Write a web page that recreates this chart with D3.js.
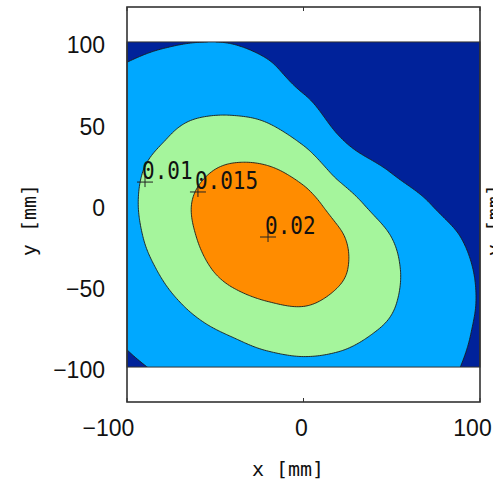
<!DOCTYPE html>
<html><head><meta charset="utf-8">
<script src="https://cdn.jsdelivr.net/npm/d3@7"></script>
<style>html,body{margin:0;padding:0;background:#fff;} svg{display:block;}</style>
</head><body>
<svg id="chart" width="493" height="480"></svg>
<script>
// ---- data ----
const gridX = [-100, -80, -60, -40, -20, 0, 20, 40, 60, 80, 100];
const gridY = [100, 80, 60, 40, 20, 0, -20, -40, -60, -80, -100];
const field = [
 [0.00400,0.00459,0.00497,0.00485,0.00377,0.00202,0.00096,0.00042,0.00017,0.00009,0.00005],
 [0.00558,0.00654,0.00707,0.00710,0.00607,0.00348,0.00170,0.00065,0.00036,0.00019,0.00010],
 [0.00699,0.00833,0.00916,0.00927,0.00855,0.00620,0.00300,0.00140,0.00073,0.00056,0.00034],
 [0.00804,0.00980,0.01168,0.01238,0.01166,0.00930,0.00534,0.00282,0.00189,0.00117,0.00076],
 [0.00883,0.01147,0.01416,0.01593,0.01576,0.01334,0.00892,0.00609,0.00383,0.00232,0.00143],
 [0.00904,0.01210,0.01558,0.01862,0.01909,0.01712,0.01278,0.00903,0.00653,0.00414,0.00251],
 [0.00866,0.01167,0.01513,0.01893,0.02010,0.01906,0.01566,0.01160,0.00852,0.00604,0.00375],
 [0.00802,0.01044,0.01359,0.01691,0.01896,0.01845,0.01582,0.01237,0.00927,0.00692,0.00453],
 [0.00699,0.00894,0.01111,0.01339,0.01495,0.01544,0.01391,0.01164,0.00913,0.00700,0.00474],
 [0.00569,0.00740,0.00891,0.01023,0.01150,0.01206,0.01135,0.00989,0.00840,0.00656,0.00443],
 [0.00419,0.00560,0.00696,0.00797,0.00863,0.00904,0.00878,0.00795,0.00696,0.00571,0.00404]
];
const levels = [0.005, 0.01, 0.015];
const xTicks = [-100, 0, 100];
const yTicks = [-100, -50, 0, 50, 100];
const labelText = ["0.01", "0.015", "0.02"];
const labelX = [-89.8, -59.8, -20.1];
const labelY = [13.8, 7.7, -20.0];

// ---- styles ----
const bandColors = ["#00229a", "#00a8ff", "#a5f59c", "#ff8c00"];
const tickFont = "'Liberation Sans', Arial, Helvetica, sans-serif";
const monoFont = "'DejaVu Sans Mono', 'Liberation Mono', monospace";

const svg = d3.select("#chart");
const x = d3.scaleLinear([-100, 100], [127, 480]);
const y = d3.scaleLinear([-121.5, 121.5], [402, 7]);

// ---- smooth resampling of the grid (Catmull-Rom) for drawing ----
const nR = field.length, nC = field[0].length;
function at(r, c) {
  // linear extrapolation for ghost points
  if (c < 0) return 2 * at(r, 0) - at(r, 1);
  if (c > nC - 1) return 2 * at(r, nC - 1) - at(r, nC - 2);
  if (r < 0) return 2 * at(0, c) - at(1, c);
  if (r > nR - 1) return 2 * at(nR - 1, c) - at(nR - 2, c);
  return field[r][c];
}
function cr(p0, p1, p2, p3, t) {
  return 0.5 * (2 * p1 + (-p0 + p2) * t + (2 * p0 - 5 * p1 + 4 * p2 - p3) * t * t + (-p0 + 3 * p1 - 3 * p2 + p3) * t * t * t);
}
function sample(u, v) {
  let i = Math.min(Math.floor(u), nC - 2), j = Math.min(Math.floor(v), nR - 2);
  const tu = u - i, tv = v - j;
  const rows = [];
  for (let k = -1; k <= 2; k++) {
    const r = j + k;
    rows.push(cr(at(r, i - 1), at(r, i), at(r, i + 1), at(r, i + 2), tu));
  }
  return cr(rows[0], rows[1], rows[2], rows[3], tv);
}
const N = 201;
const values = new Array(N * N);
for (let r = 0; r < N; r++) {
  for (let c = 0; c < N; c++) {
    values[r * N + c] = sample(c * (nC - 1) / (N - 1), r * (nR - 1) / (N - 1));
  }
}
const stepX = (gridX[nC - 1] - gridX[0]) / (N - 1);
const stepY = (gridY[0] - gridY[nR - 1]) / (N - 1);
const proj = d3.geoTransform({
  point(px, py) {
    this.stream.point(x(gridX[0] + (px - 0.5) * stepX), y(gridY[0] - (py - 0.5) * stepY));
  }
});
const path = d3.geoPath(proj);
const contours = d3.contours().size([N, N]).thresholds(levels)(values);

// ---- drawing ----
const defs = svg.append("defs");
defs.append("clipPath").attr("id", "dataClip").append("rect")
  .attr("x", x(-100)).attr("y", y(100))
  .attr("width", x(100) - x(-100)).attr("height", y(-100) - y(100));

const plot = svg.append("g").attr("clip-path", "url(#dataClip)");
plot.append("rect")
  .attr("x", x(-100)).attr("y", y(100))
  .attr("width", x(100) - x(-100)).attr("height", y(-100) - y(100))
  .attr("fill", bandColors[0]);
plot.selectAll("path.band").data(contours).join("path")
  .attr("class", "band")
  .attr("d", path)
  .attr("fill", (d, i) => bandColors[i + 1])
  .attr("stroke", "#1a1a1a")
  .attr("stroke-width", 0.9);

// data-area edge lines
svg.append("rect")
  .attr("x", x(-100)).attr("y", y(100))
  .attr("width", x(100) - x(-100)).attr("height", y(-100) - y(100))
  .attr("fill", "none").attr("stroke", "#333").attr("stroke-width", 1);

// contour labels with plus markers
const labels = svg.append("g");
labelText.forEach((t, i) => {
  const px = x(labelX[i]), py = y(labelY[i]);
  labels.append("path")
    .attr("d", `M${px - 8},${py}H${px + 8}M${px},${py - 6}V${py + 5}`)
    .attr("stroke", "#222").attr("stroke-width", 1).attr("fill", "none");
  labels.append("text")
    .attr("transform", `translate(${px - 3},${py - 3}) scale(1,1.2)`)
    .attr("font-family", monoFont).attr("font-size", 21)
    .attr("fill", "#111")
    .text(t);
});

// frame
svg.append("rect")
  .attr("x", 127).attr("y", 7).attr("width", 353).attr("height", 395)
  .attr("fill", "none").attr("stroke", "#333").attr("stroke-width", 1.6);

// small inward x ticks
xTicks.forEach(v => {
  svg.append("line").attr("x1", x(v)).attr("x2", x(v)).attr("y1", 7).attr("y2", 11)
    .attr("stroke", "#333").attr("stroke-width", 1);
  svg.append("line").attr("x1", x(v)).attr("x2", x(v)).attr("y1", 402).attr("y2", 398)
    .attr("stroke", "#333").attr("stroke-width", 1);
});

// axes
const xShift = {"-100": -19, "0": -2.5, "100": -8};
const gx = svg.append("g").attr("transform", "translate(0,402)")
  .call(d3.axisBottom(x).tickValues(xTicks).tickSize(0).tickPadding(18));
gx.select(".domain").remove();
gx.selectAll("text")
  .attr("font-family", tickFont).attr("font-size", 23).attr("fill", "#111")
  .attr("dx", d => xShift[String(d)]);

const gy = svg.append("g").attr("transform", "translate(127,0)")
  .call(d3.axisLeft(y).tickValues(yTicks).tickSize(0).tickPadding(22));
gy.select(".domain").remove();
gy.selectAll("text")
  .attr("font-family", tickFont).attr("font-size", 23).attr("fill", "#111")
  .attr("dy", "0.47em");

// axis titles
svg.append("text")
  .attr("x", 288).attr("y", 476)
  .attr("text-anchor", "middle")
  .attr("font-family", monoFont).attr("font-size", 20).attr("fill", "#111")
  .text("x [mm]");
svg.append("text")
  .attr("transform", "translate(36,220) rotate(-90)")
  .attr("text-anchor", "middle")
  .attr("font-family", monoFont).attr("font-size", 20).attr("fill", "#111")
  .text("y [mm]");
// clipped title of the neighbouring panel at the right edge
svg.append("text")
  .attr("transform", "translate(501,220) rotate(-90)")
  .attr("text-anchor", "middle")
  .attr("font-family", monoFont).attr("font-size", 20).attr("fill", "#111")
  .text("y [mm]");
</script>
</body></html>
